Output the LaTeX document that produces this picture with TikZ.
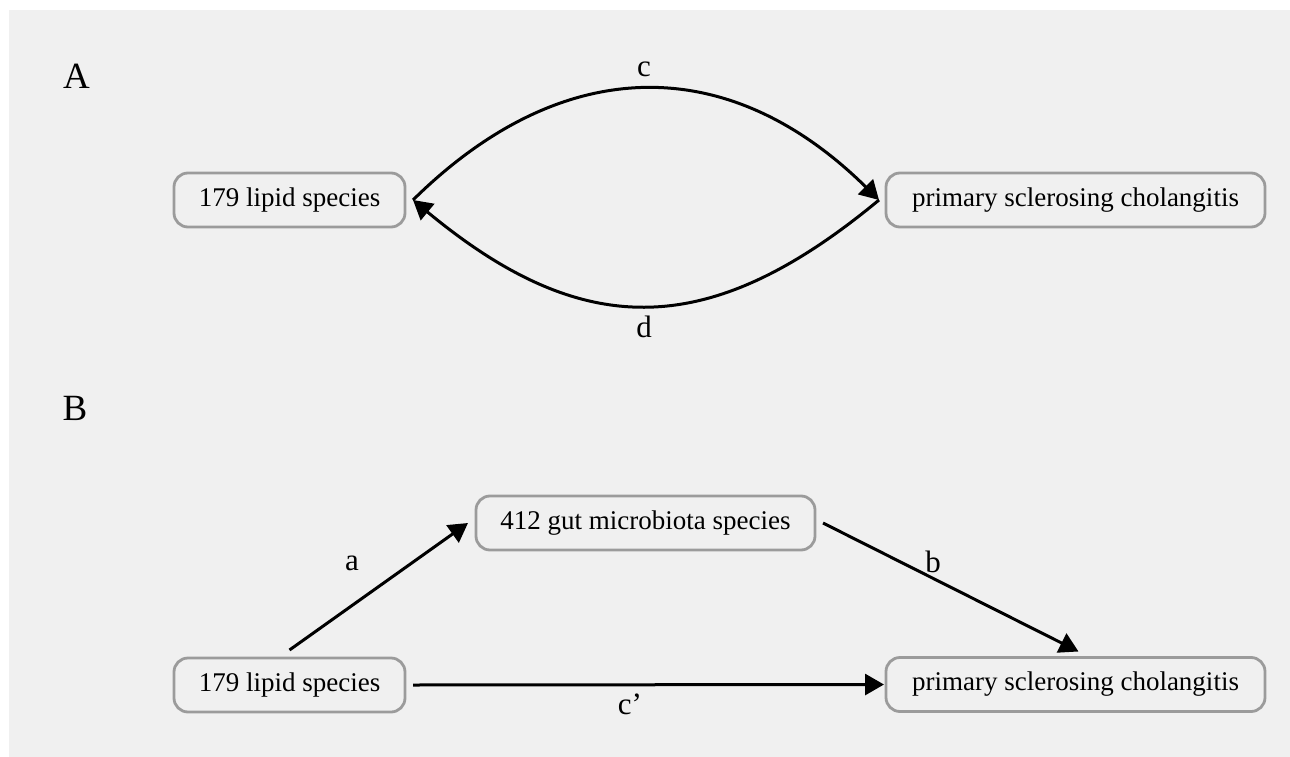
\documentclass[tikz,border=0pt]{standalone}
\usepackage{fontspec}
\setmainfont{Liberation Serif}
\usetikzlibrary{arrows.meta}
\definecolor{bgcol}{RGB}{240,240,240}
\definecolor{boxline}{RGB}{155,155,155}
\tikzset{
  box/.style={draw=boxline, line width=2.8pt, rounded corners=14pt,
    minimum height=54pt, inner sep=0pt, font=\fontsize{27}{32}\selectfont},
  conn/.style={line width=3pt, -{Triangle[length=19pt,width=21pt]}},
  lbl/.style={anchor=base, inner sep=0pt, font=\fontsize{31}{36}\selectfont},
  panel/.style={anchor=base, inner sep=0pt, font=\fontsize{37}{42}\selectfont}
}
\begin{document}
\begin{tikzpicture}[x=1pt,y=-1pt]
\useasboundingbox (0,0) rectangle (1290,757);
\fill[bgcol] (9,10) rectangle (1290,757);
% panel labels
\node[panel] (pA) at (76.5,89) {A};
\node[panel] (pB) at (75,420) {B};
% panel A
\node[box, minimum width=231pt, outer xsep=8pt] (LA) at (289.5,200) {179 lipid species};
\node[box, minimum width=379pt, outer xsep=7pt] (RA) at (1075.5,200) {primary sclerosing cholangitis};
\draw[conn] (LA.east) .. controls (563,52) and (729,52) .. (RA.west);
\draw[conn] (RA.west) .. controls (709,341) and (583,341) .. (LA.east);
\node[lbl] (lc) at (644,77) {c};
\node[lbl] (ld) at (644,337) {d};
% panel B
\node[box, minimum width=231pt, outer sep=8pt] (LB) at (289.5,685) {179 lipid species};
\node[box, minimum width=339pt, outer sep=8pt] (MB) at (645.5,523) {412 gut microbiota species};
\node[box, minimum width=379pt, outer xsep=2pt, outer ysep=6pt] (RB) at (1075.5,684.5) {primary sclerosing cholangitis};
\draw[conn] (LB.north) -- (MB.west);
\draw[conn] (MB.east) -- ([xshift=3pt]RB.north);
\draw[conn] (LB.east) -- (RB.west);
\node[lbl] (la) at (352,570) {a};
\node[lbl] (lb) at (933,572) {b};
\node[lbl] (lcp) at (630,714) {c’};
\end{tikzpicture}
\end{document}
